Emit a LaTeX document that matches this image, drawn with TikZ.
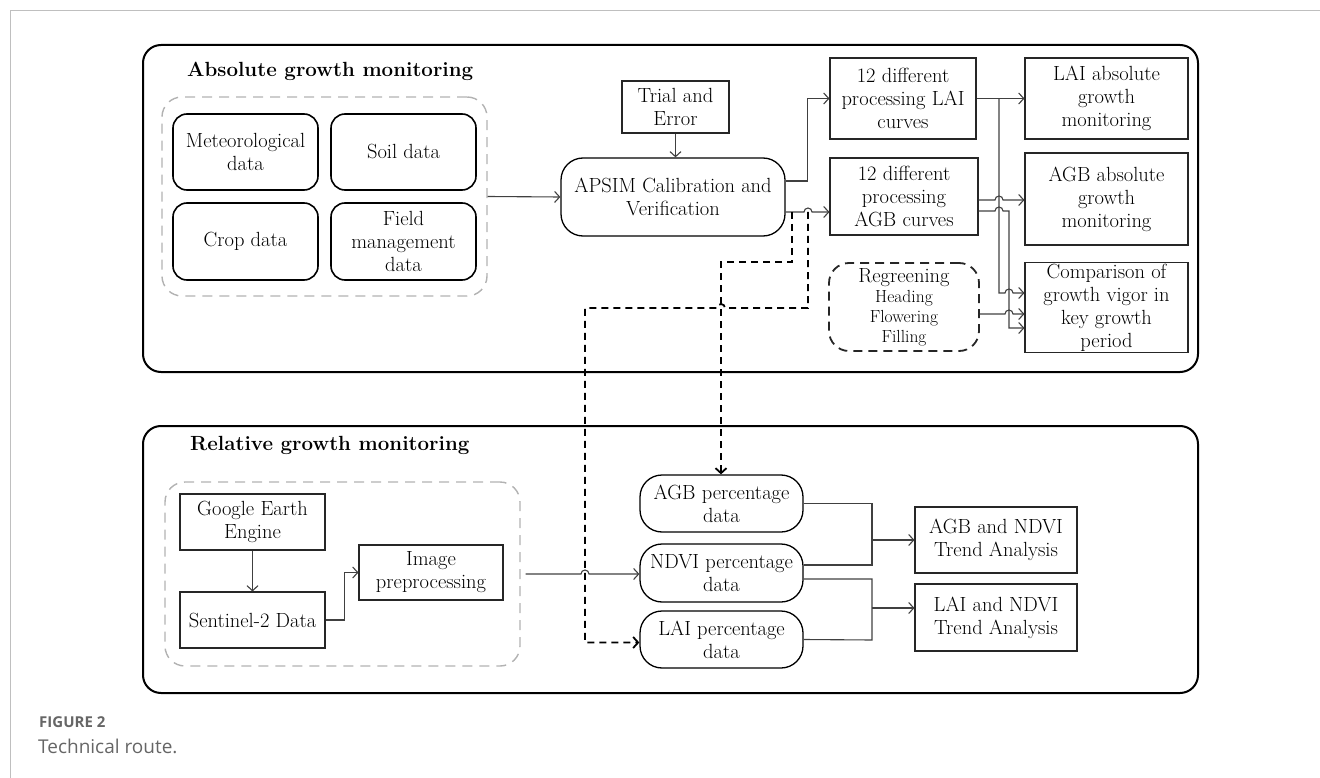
\documentclass[tikz,border=0pt]{standalone}
\usepackage{fontspec}
\newfontfamily\capfont{Open Sans}
\usetikzlibrary{arrows.meta}
\newcommand{\subsz}{\fontsize{17.5}{20}\selectfont}
\tikzset{
  txt/.style={align=center, font=\fontsize{20.5}{23}\selectfont, inner sep=1pt},
  rbox/.style={txt, draw=black, line width=1.6pt, rounded corners=14pt},
  sbox/.style={txt, draw=black!85, line width=1.1pt},
  grp/.style={draw=black!30, line width=1.4pt, dash pattern=on 10pt off 7pt, rounded corners=20pt},
  outer/.style={draw=black, line width=2pt, rounded corners=18pt},
  title/.style={anchor=west, font=\fontsize{20.5}{24}\selectfont\bfseries, inner sep=0pt},
  ln/.style={draw=black!75, line width=1.1pt},
  conn/.style={ln, -{Straight Barb[length=5pt,width=11pt]}},
  dconn/.style={draw=black, line width=1.8pt, dash pattern=on 7pt off 5pt, -{Straight Barb[length=5pt,width=11pt,line width=1.8pt]}},
}
\begin{document}
\begin{tikzpicture}[x=1pt,y=-1pt]
\useasboundingbox (0,0) rectangle (1320,778);
\draw[black!25, line width=1pt] (10,778) -- (10,11) -- (1320,11);

% outer panels
\draw[outer] (143,45) rectangle (1198,372);
\draw[outer] (143,426) rectangle (1198,693);
\node[title] (t1title) at (187,71) {Absolute growth monitoring};
\node[title] (t2title) at (190,445) {Relative growth monitoring};

% ---------- top panel ----------
\node[grp, minimum width=325pt, minimum height=199pt] (g1) at (324.5,196.5) {};
\node[rbox, minimum width=145pt, minimum height=76pt] (met) at (245.5,152) {Meteorological\\data};
\node[rbox, minimum width=145pt, minimum height=76pt] (soil) at (403.5,152) {Soil data};
\node[rbox, minimum width=145pt, minimum height=77pt] (crop) at (245.5,241.5) {Crop data};
\node[rbox, minimum width=145pt, minimum height=77pt] (field) at (403.5,241.5) {Field\\management\\data};

\node[sbox, minimum width=107pt, minimum height=52pt] (trial) at (675.5,107) {Trial and\\Error};
\node[rbox, line width=1.3pt, minimum width=224pt, minimum height=78pt, rounded corners=22pt] (apsim) at (673,197) {APSIM Calibration and\\Verification};

\node[sbox, minimum width=146pt, minimum height=81pt] (lcurve) at (903,98.5) {12 different\\processing LAI\\curves};
\node[sbox, minimum width=148pt, minimum height=77pt] (acurve) at (904,196.5) {12 different\\processing\\AGB curves};
\node[txt, draw=black!85, line width=1.8pt, dash pattern=on 9pt off 6pt, rounded corners=20pt, minimum width=150pt, minimum height=88pt] (regr) at (904,307)
  {Regreening\\[-3pt]{\subsz Heading}\\[-3pt]{\subsz Flowering}\\[-3pt]{\subsz Filling}};

\node[sbox, minimum width=163pt, minimum height=81pt] (labs) at (1106.5,98.5) {LAI absolute\\growth\\monitoring};
\node[sbox, minimum width=163pt, minimum height=92pt] (aabs) at (1106.5,199) {AGB absolute\\growth\\monitoring};
\node[sbox, minimum width=163pt, minimum height=89pt] (comp) at (1106.5,307.5) {Comparison of\\growth vigor in\\key growth\\period};

% ---------- bottom panel ----------
\node[grp, minimum width=355pt, minimum height=184pt] (g2) at (342.5,574) {};
\node[sbox, minimum width=145pt, minimum height=56pt] (gee) at (252.5,522) {Google Earth\\Engine};
\node[sbox, minimum width=145pt, minimum height=56pt] (sent) at (252.5,620) {Sentinel-2 Data};
\node[sbox, minimum width=144pt, minimum height=55pt] (img) at (431,572.5) {Image\\preprocessing};

\node[rbox, line width=1.3pt, rounded corners=22pt, minimum width=163pt, minimum height=57pt] (agbp) at (721.5,503.5) {AGB percentage\\data};
\node[rbox, line width=1.3pt, rounded corners=22pt, minimum width=163pt, minimum height=58pt] (ndvip) at (721.5,573) {NDVI percentage\\data};
\node[rbox, line width=1.3pt, rounded corners=22pt, minimum width=163pt, minimum height=57pt] (laip) at (721.5,639.5) {LAI percentage\\data};

\node[sbox, minimum width=162pt, minimum height=66pt] (tr1) at (996,540) {AGB and NDVI\\Trend Analysis};
\node[sbox, minimum width=162pt, minimum height=67pt] (tr2) at (996,617.5) {LAI and NDVI\\Trend Analysis};

% ---------- connectors ----------
\draw[conn] (g1.east) -- (apsim.west);
\draw[conn] (trial.south) -- (apsim.north -| trial.south);

\draw[conn] ([yshift=16pt]apsim.east) -| ([xshift=-22pt]lcurve.west) -- (lcurve.west);
\draw[conn] ([yshift=-15pt]apsim.east) -- (804,212) arc[start angle=180,end angle=0,radius=4pt] -- (acurve.west |- 0,212);

\coordinate (d1) at (792,212);
\coordinate (d2) at (808,212);
\draw[dconn] (d1) -- (792,262) -- (721,262) -- (agbp.north -| 721,0);
\draw[dconn] (d2) -- (808,308) -- (725,308) arc[start angle=0,end angle=180,radius=4pt] -- (585,308) |- ([yshift=-3pt]laip.west);

\draw[conn] (lcurve.east) -- (labs.west);
\draw[conn] (999,98.5) -- (999,293) -- (1005,293) arc[start angle=180,end angle=0,radius=4pt] -- (comp.west |- 0,293);
\draw[conn] (acurve.east |- 0,200) -- (995,200) arc[start angle=180,end angle=0,radius=4pt] -- (aabs.west |- 0,200);
\draw[conn] (acurve.east |- 0,211) -- (995,211) arc[start angle=180,end angle=0,radius=4pt] -- (1009,211) -- (1009,328) -- (comp.west |- 0,328);
\draw[conn] (regr.east |- 0,314) -- (1005,314) arc[start angle=180,end angle=0,radius=4pt] -- (comp.west |- 0,314);

\draw[conn] (gee.south) -- (sent.north);
\draw[conn] (sent.east) -| ([xshift=-14pt]img.west) -- (img.west);
\draw[conn] ([xshift=5pt]g2.east) -- (581,574) arc[start angle=180,end angle=0,radius=4pt] -- (ndvip.west |- 0,574);

\draw[ln] (agbp.east) -| (872,565) -- ([yshift=8pt]ndvip.east);
\draw[conn] (872,540) -- (tr1.west);
\draw[ln] ([yshift=-6pt]ndvip.east) -| (872,640) -- (laip.east);
\draw[conn] (872,608) -- (tr2.west |- 0,608);

% caption
\node[anchor=west, inner sep=0pt, text=black!60, font=\capfont\bfseries\fontsize{15}{18}\selectfont] (fig) at (39,722) {FIGURE 2};
\node[anchor=west, inner sep=0pt, text=black!60, font=\capfont\fontsize{19}{22}\selectfont] (cap) at (38,746) {Technical route.};
\end{tikzpicture}
\end{document}
